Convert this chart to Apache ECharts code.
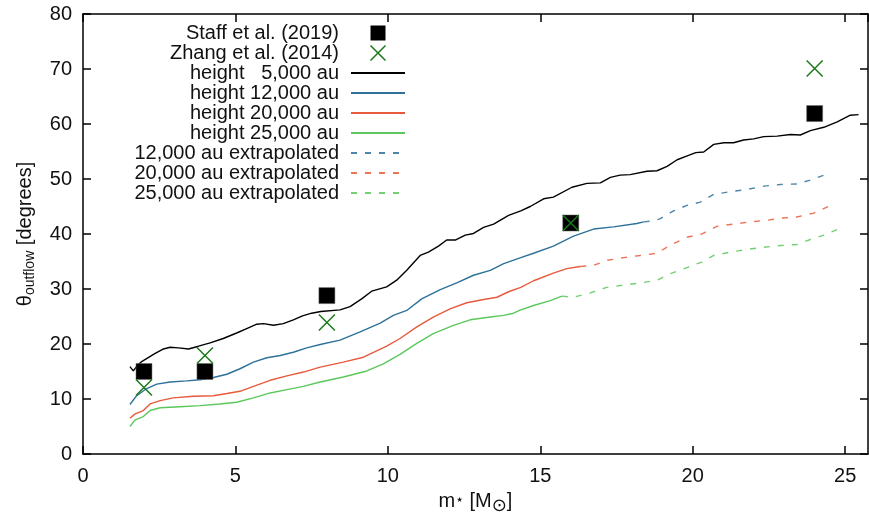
<!DOCTYPE html>
<html>
<head>
<meta charset="utf-8">
<script src="https://cdn.jsdelivr.net/npm/echarts@6/dist/echarts.min.js"></script>
<style>html,body{margin:0;padding:0;background:#fff}#c{width:869px;height:521px}</style>
</head>
<body>
<div id="c"></div>
<script>
// ---- data (x = stellar mass in Msun, y = outflow angle in degrees) ----
const staff2019 = [[2, 15.0], [4, 15.0], [8, 28.8], [16, 42.0], [24, 61.9]];
const zhang2014 = [[2, 12.1], [4, 17.9], [8, 23.9], [16, 42.0], [24, 70.1]];

const h5000 = [[1.54,15.9],[1.65,15.1],[1.8,16.2],[1.95,16.9],[2.1,17.4],[2.31,18.1],[2.64,19.1],[2.86,19.4],[3.13,19.3],[3.46,19.1],[3.79,19.6],[4.17,20.2],[4.6,21.0],[5.04,22.0],[5.37,22.8],[5.7,23.6],[5.92,23.7],[6.25,23.4],[6.57,23.7],[6.9,24.4],[7.2,25.1],[7.5,25.6],[7.8,25.9],[8.43,26.2],[8.76,26.8],[9.14,28.2],[9.47,29.6],[9.96,30.4],[10.29,31.6],[10.62,33.4],[11.06,36.1],[11.33,36.7],[11.66,37.8],[11.93,38.9],[12.21,38.9],[12.54,39.8],[12.81,40.1],[13.14,41.2],[13.47,41.8],[13.96,43.4],[14.36,44.2],[14.67,45.0],[15.11,46.4],[15.43,46.7],[16.04,48.5],[16.53,49.2],[16.97,49.3],[17.3,50.3],[17.62,50.7],[17.95,50.8],[18.5,51.4],[18.83,51.5],[19.16,52.3],[19.49,53.5],[19.82,54.2],[20.1,54.8],[20.36,54.9],[20.69,56.3],[21.02,56.6],[21.34,56.6],[21.67,57.1],[22.0,57.3],[22.33,57.7],[22.77,57.8],[23.2,58.1],[23.53,58.0],[23.86,58.8],[24.3,59.4],[24.74,60.4],[25.17,61.6],[25.44,61.7]];

const h12000 = [[1.54,9.0],[1.76,10.6],[2.09,11.9],[2.42,12.7],[2.86,13.1],[3.4,13.3],[3.84,13.5],[4.28,13.9],[4.72,14.5],[5.15,15.5],[5.59,16.7],[6.03,17.5],[6.47,17.9],[6.9,18.5],[7.34,19.3],[7.78,19.9],[8.43,20.7],[9.09,22.2],[9.75,23.8],[10.18,25.2],[10.62,26.1],[11.11,28.2],[11.72,29.9],[12.26,31.1],[12.81,32.5],[13.36,33.4],[13.8,34.6],[14.36,35.7],[14.78,36.5],[15.43,37.8],[16.09,39.6],[16.75,40.9],[17.4,41.3],[18.17,41.9],[18.39,42.2]];
const h12000ext = [[18.39,42.2],[18.72,42.4],[18.94,42.8],[19.37,44.2],[19.81,45.2],[20.25,45.8],[20.69,47.2],[21.23,47.7],[21.78,48.1],[22.33,48.7],[22.88,49.0],[23.42,49.1],[23.86,49.8],[24.52,51.1]];

const h20000 = [[1.54,6.5],[1.71,7.3],[1.98,7.9],[2.2,9.1],[2.53,9.7],[2.96,10.2],[3.62,10.5],[4.28,10.6],[4.72,11.0],[5.15,11.4],[5.59,12.3],[6.14,13.4],[6.69,14.2],[7.23,14.9],[7.78,15.8],[8.54,16.7],[9.2,17.6],[9.96,19.6],[10.4,21.0],[10.95,23.1],[11.49,24.9],[12.04,26.4],[12.59,27.5],[13.14,28.1],[13.58,28.5],[13.96,29.5],[14.36,30.3],[14.78,31.5],[15.43,32.9],[15.87,33.7],[16.31,34.1]];
const h20000ext = [[16.31,34.1],[16.75,34.3],[17.18,35.2],[17.73,35.7],[18.28,36.1],[18.83,36.5],[19.27,38.0],[19.81,39.4],[20.3,40.0],[20.79,41.4],[21.34,41.8],[21.88,42.2],[22.43,42.5],[22.97,42.9],[23.42,43.1],[23.97,43.8],[24.52,45.2]];

const h25000 = [[1.54,5.0],[1.71,6.2],[1.98,6.8],[2.2,7.9],[2.53,8.4],[3.18,8.6],[3.84,8.8],[4.49,9.1],[5.04,9.4],[5.59,10.2],[6.14,11.1],[6.69,11.7],[7.23,12.3],[7.78,13.1],[8.54,14.0],[9.31,15.1],[9.85,16.4],[10.4,18.1],[10.95,20.1],[11.49,21.9],[12.15,23.4],[12.7,24.4],[13.36,24.9],[13.8,25.2],[14.12,25.6],[14.36,26.2],[14.78,27.0],[15.33,27.9],[15.71,28.7]];
const h25000ext = [[15.71,28.7],[16.09,28.5],[16.64,29.3],[17.18,30.3],[17.73,30.7],[18.28,31.1],[18.83,31.6],[19.27,32.8],[19.81,33.9],[20.3,34.9],[20.69,36.1],[21.23,36.7],[21.78,37.2],[22.33,37.6],[22.88,37.9],[23.42,38.1],[23.86,39.0],[24.3,39.8],[24.74,40.8]];

const legendNames = ['Staff et al. (2019)', 'Zhang et al. (2014)', 'height   5,000 au', 'height 12,000 au', 'height 20,000 au', 'height 25,000 au', '12,000 au extrapolated', '20,000 au extrapolated', '25,000 au extrapolated'];
const xTicks = [0, 5, 10, 15, 20, 25];
const yTicks = [0, 10, 20, 30, 40, 50, 60, 70, 80];

// ---- chart ----
const FONT = '"Liberation Sans", Arial, Helvetica, sans-serif';
const C_BLUE = '#2e7199', C_RED = '#e85a3c', C_GREEN = '#5cc75c', C_ZHANG = '#1a7a1a';
const X_PATH = 'path://M0,0L10,10M10,0L0,10';
const SQ_PATH = 'path://M0,0L10,0L10,10L0,10Z';
const chart = echarts.init(document.getElementById('c'), null, {renderer: 'canvas'});

function lineSeries(name, data, color, dashed) {
  return {
    name, type: 'line', data, showSymbol: false, symbol: 'none', smooth: false,
    xAxisIndex: 0, yAxisIndex: 0, z: 2,
    lineStyle: {color, width: 1.4, type: dashed ? [6, 8] : 'solid', opacity: dashed ? 0.85 : 1},
    itemStyle: {color},
    emphasis: {disabled: true}
  };
}

const legendData = legendNames.map((n, i) => {
  if (i === 0) return {name: n, icon: SQ_PATH, itemStyle: {borderWidth: 0}};
  if (i === 1) return {name: n, icon: X_PATH, itemStyle: {borderWidth: 1.5}};
  return {name: n, itemStyle: {opacity: 0}};
});

const tickStyle = {show: true, inside: true, length: 8, lineStyle: {color: '#000', width: 1.5}};
const lineAxis = {show: true, onZero: false, lineStyle: {color: '#000', width: 1.5}};
const xLabel = v => xTicks.indexOf(Math.round(v * 1000) / 1000) >= 0 ? String(v) : '';

const option = {
  animation: false,
  backgroundColor: '#fff',
  textStyle: {fontFamily: FONT},
  grid: {left: 83, right: 1, top: 14, bottom: 67, containLabel: false},
  legend: {
    data: legendData,
    orient: 'vertical', align: 'right',
    right: 463, top: 23, padding: 0,
    itemWidth: 54, itemHeight: 15, itemGap: 0,
    selectedMode: false,
    textStyle: {fontSize: 20, color: '#111', fontFamily: FONT, padding: [0, 7, 0, 0]}
  },
  xAxis: [{
    type: 'value', min: 0, max: 25.75, interval: 5, position: 'bottom',
    axisLine: lineAxis, axisTick: tickStyle, splitLine: {show: false},
    axisLabel: {fontSize: 20, color: '#111', margin: 12, formatter: xLabel, showMaxLabel: false, fontFamily: FONT},
    name: '{t|m}{st|⋆}{t| [M}{s|⊙}{t|]}', nameLocation: 'middle', nameGap: 33,
    nameTextStyle: {rich: {
      t: {fontSize: 20, color: '#111', fontFamily: FONT},
      st: {fontSize: 14, color: '#111', fontFamily: 'DejaVu Sans', padding: [0, 0, 2, 0]},
      s: {fontSize: 18, color: '#111', fontFamily: 'DejaVu Sans', padding: [10, 0, 0, 0]}
    }}
  }, {
    type: 'value', min: 0, max: 25.75, interval: 5, position: 'top',
    axisLine: lineAxis, axisTick: tickStyle, axisLabel: {show: false}, splitLine: {show: false}
  }],
  yAxis: [{
    type: 'value', min: 0, max: 80, interval: 10, position: 'left',
    axisLine: lineAxis, axisTick: tickStyle, splitLine: {show: false},
    axisLabel: {fontSize: 20, color: '#111', margin: 11, fontFamily: FONT},
    name: '{t|θ}{s|outflow}{t| [degrees]}', nameLocation: 'middle', nameGap: 46, nameRotate: 90,
    nameTextStyle: {rich: {
      t: {fontSize: 20, color: '#111', fontFamily: FONT},
      s: {fontSize: 14, color: '#111', fontFamily: FONT, padding: [10, 0, 0, 0]}
    }}
  }, {
    type: 'value', min: 0, max: 80, interval: 10, position: 'right',
    axisLine: lineAxis, axisTick: tickStyle, axisLabel: {show: false}, splitLine: {show: false}
  }],
  series: [
    lineSeries(legendNames[2], h5000, '#000000', false),
    lineSeries(legendNames[3], h12000, C_BLUE, false),
    lineSeries(legendNames[4], h20000, C_RED, false),
    lineSeries(legendNames[5], h25000, C_GREEN, false),
    lineSeries(legendNames[6], h12000ext, C_BLUE, true),
    lineSeries(legendNames[7], h20000ext, C_RED, true),
    lineSeries(legendNames[8], h25000ext, C_GREEN, true),
    {
      name: legendNames[0], type: 'scatter', data: staff2019, symbol: 'rect', symbolSize: 16, z: 5,
      itemStyle: {color: '#000', opacity: 1, borderColor: '#666', borderWidth: 0.5}, emphasis: {disabled: true}
    },
    {
      name: legendNames[1], type: 'scatter', data: zhang2014, symbol: X_PATH, symbolSize: 16, z: 6,
      itemStyle: {color: 'transparent', opacity: 1, borderColor: C_ZHANG, borderWidth: 1.5}, emphasis: {disabled: true}
    }
  ]
};
chart.setOption(option);
</script>
</body>
</html>
